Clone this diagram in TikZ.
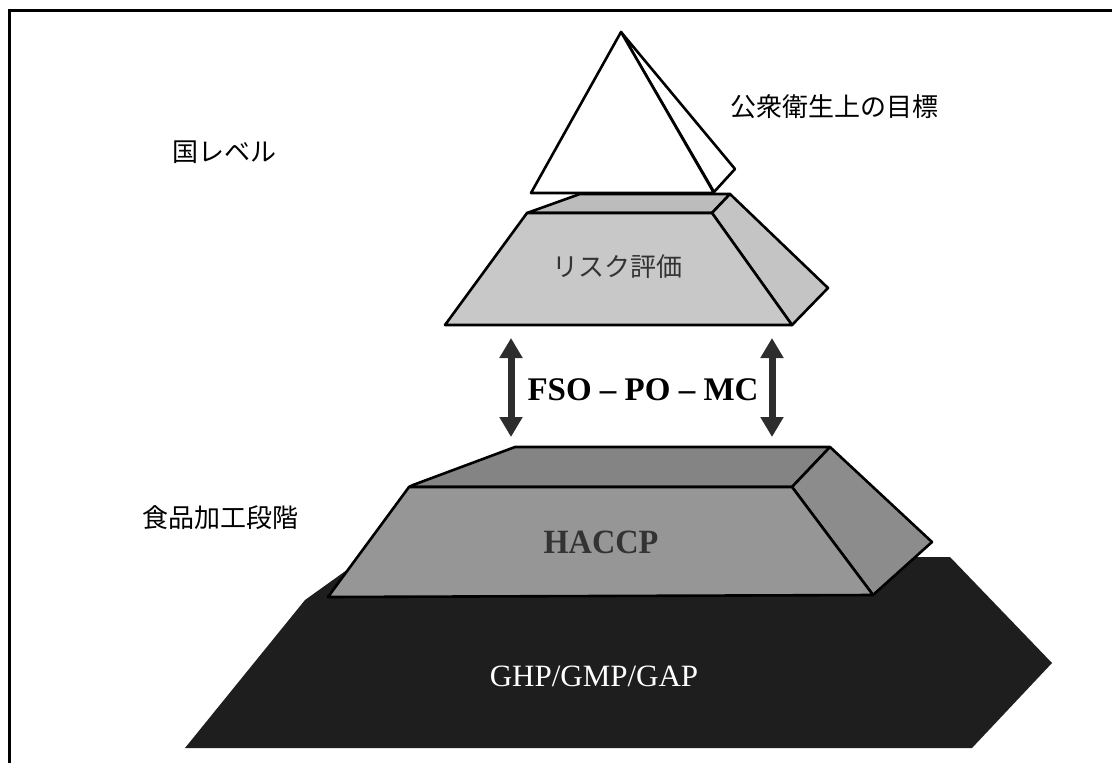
\documentclass[tikz,border=0pt]{standalone}
\usepackage{fontspec}
\setmainfont{Liberation Serif}
\newfontfamily\jp{Noto Sans CJK JP}
\usetikzlibrary{arrows.meta}
\definecolor{riskfront}{RGB}{200,200,200}
\definecolor{risktop}{RGB}{188,188,188}
\definecolor{riskside}{RGB}{196,196,196}
\definecolor{hafront}{RGB}{150,150,150}
\definecolor{hatop}{RGB}{132,132,132}
\definecolor{haside}{RGB}{140,140,140}
\definecolor{ghp}{RGB}{30,30,30}
\definecolor{arrowgray}{RGB}{45,45,45}
\tikzset{
  outline/.style={draw=black, line width=2.6pt, line join=round},
  jplabel/.style={font=\jp\fontsize{26}{26}\selectfont, inner sep=0pt},
  bothway/.style={arrowgray, line width=7pt, {Triangle[width=22pt,length=20pt]}-{Triangle[width=22pt,length=20pt]}},
  frameline/.style={line width=3pt, black}
}
\begin{document}
\begin{tikzpicture}[x=1pt,y=-1pt]
\useasboundingbox (0,0) rectangle (1112,763);
% frame (cropped)
\draw[frameline] (9,763) -- (9,10) -- (1112,10);
% base slab GHP/GMP/GAP
\fill[ghp] (185,748) -- (305,600) -- (365,557) -- (950,557) -- (1052,663) -- (972,748) -- cycle;
\node[font=\fontsize{31}{31}\selectfont, text=white, inner sep=0pt] (ghptext) at (594,676) {GHP/GMP/GAP};
% HACCP slab
\filldraw[outline, fill=hatop] (409,487) -- (413,485) -- (515,447) -- (830,447) -- (792,487) -- cycle;
\filldraw[outline, fill=haside] (792,487) -- (830,447) -- (932,542) -- (873,595) -- cycle;
\filldraw[outline, fill=hafront] (409,487) -- (792,487) -- (873,595) -- (328,597) -- cycle;
\node[font=\bfseries\fontsize{34}{34}\selectfont, text=black!80, inner sep=0pt] (haccp) at (601,542) {\scalebox{0.95}[1]{HACCP}};
% risk assessment slab
\filldraw[outline, fill=risktop] (527,213) -- (580,194) -- (730,194) -- (712,213) -- cycle;
\filldraw[outline, fill=riskside] (712,213) -- (730,194) -- (828,288) -- (792,325) -- cycle;
\filldraw[outline, fill=riskfront] (527,213) -- (712,213) -- (792,325) -- (445,325) -- cycle;
\node[jplabel, text=black!80] (risk) at (617,267) {リスク評価};
% pyramid top
\filldraw[outline, fill=white] (621,32) -- (735,169) -- (714,192) -- cycle;
\filldraw[outline, fill=white] (621,32) -- (531,193) -- (714,193) -- cycle;
% arrows
\coordinate (la1) at (511,338);
\coordinate (la2) at (511,437);
\coordinate (ra1) at (772,338);
\coordinate (ra2) at (772,437);
\draw[bothway] (la1) -- (la2);
\draw[bothway] (ra1) -- (ra2);
\node[font=\bfseries\fontsize{33}{33}\selectfont, inner sep=0pt] (fso) at (643,390) {FSO -- PO -- MC};
% labels
\node[jplabel] (goal) at (834,107) {公衆衛生上の目標};
\node[jplabel] (national) at (224,152) {国レベル};
\node[jplabel] (food) at (220,518) {食品加工段階};
\end{tikzpicture}
\end{document}
